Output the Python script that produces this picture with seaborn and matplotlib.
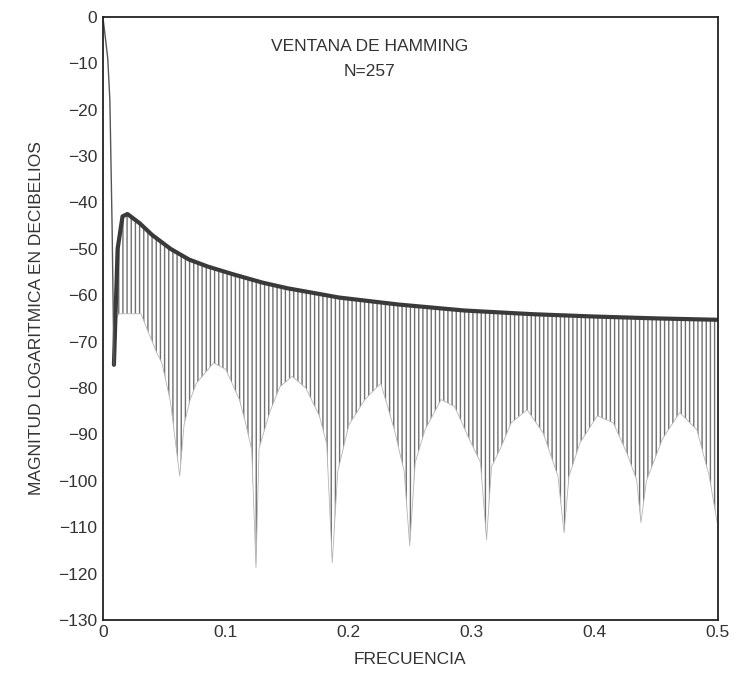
import numpy as np
import pandas as pd
import matplotlib
matplotlib.use("Agg")
import matplotlib.pyplot as plt
import seaborn as sns

# ---- data ----
mainlobe_f = [0.0, 0.0016, 0.004, 0.0057, 0.0065, 0.0075, 0.009]
mainlobe_db = [0.0, -3.5, -9.0, -18.0, -30.0, -45.0, -75.0]

upper_f = [0.009, 0.012, 0.016, 0.020, 0.025, 0.030, 0.040, 0.055, 0.070, 0.085,
           0.106, 0.130, 0.150, 0.192, 0.240, 0.294, 0.350, 0.400, 0.450, 0.500]
upper_db = [-75.0, -50.0, -43.0, -42.5, -43.5, -44.5, -47.0, -50.0, -52.3, -53.8,
            -55.5, -57.3, -58.5, -60.5, -62.0, -63.3, -64.1, -64.6, -65.0, -65.3]

lower_f = [0.009, 0.011, 0.013, 0.017, 0.031, 0.037, 0.044, 0.048, 0.055, 0.059,
           0.0625, 0.066, 0.071, 0.076, 0.090, 0.100, 0.111, 0.116, 0.121, 0.1245,
           0.127, 0.136, 0.144, 0.154, 0.165, 0.176, 0.182, 0.1865, 0.191, 0.200,
           0.213, 0.226, 0.237, 0.245, 0.2495, 0.254, 0.262, 0.275, 0.286, 0.297,
           0.307, 0.312, 0.316, 0.324, 0.332, 0.345, 0.358, 0.370, 0.375, 0.379,
           0.388, 0.402, 0.415, 0.426, 0.434, 0.4375, 0.442, 0.455, 0.469, 0.483,
           0.493, 0.4995]
lower_db = [-75.0, -65.0, -64.0, -64.0, -64.0, -68.0, -72.5, -74.6, -83.0, -91.6,
            -99.0, -88.0, -82.5, -79.0, -74.6, -76.0, -82.5, -87.5, -93.3, -118.7,
            -93.0, -85.0, -79.7, -77.5, -80.0, -86.0, -92.0, -117.7, -98.0, -88.0,
            -82.5, -79.0, -89.0, -98.0, -114.0, -96.0, -89.0, -82.5, -84.0, -90.5,
            -96.0, -112.7, -97.0, -92.6, -87.5, -84.7, -89.7, -99.0, -111.2, -99.0,
            -91.8, -86.0, -87.5, -94.0, -99.8, -109.0, -100.0, -91.0, -85.3, -89.0,
            -99.0, -109.0]

x_ticks = [0, 0.1, 0.2, 0.3, 0.4, 0.5]
x_ticklabels = ["0", "0.1", "0.2", "0.3", "0.4", "0.5"]
y_ticks = list(range(0, -140, -10))
y_ticklabels = [str(v) if v == 0 else "\u2212" + str(-v) for v in y_ticks]

title1 = "VENTANA DE HAMMING"
title2 = "N=257"
xlabel = "FRECUENCIA"
ylabel = "MAGNITUD LOGARITMICA EN DECIBELIOS"

# ---- style ----
sns.set_style("white")
plt.rcParams["font.family"] = ["Liberation Sans", "DejaVu Sans"]
plt.rcParams["hatch.linewidth"] = 1.0

fig = plt.figure(figsize=(7.40, 6.76), dpi=100)
ax = fig.add_axes([0.139, 0.083, 0.831, 0.892])

ink = "#222222"

# dense spectral strokes: area between trough envelope and peak envelope
poly_f = list(upper_f) + list(lower_f[::-1])
poly_db = list(upper_db) + list(lower_db[::-1])
ax.fill(poly_f, poly_db, facecolor="none", edgecolor="#707070",
        hatch="||||", linewidth=0)

df_low = pd.DataFrame({"f": lower_f, "db": lower_db})
df_up = pd.DataFrame({"f": upper_f, "db": upper_db})
df_main = pd.DataFrame({"f": mainlobe_f, "db": mainlobe_db})

sns.lineplot(data=df_low, x="f", y="db", ax=ax, color="#b5b5b5", linewidth=0.6,
             sort=False, estimator=None)
sns.lineplot(data=df_up, x="f", y="db", ax=ax, color="#3a3a3a", linewidth=3.0,
             sort=False, estimator=None)
sns.lineplot(data=df_main, x="f", y="db", ax=ax, color="#555555", linewidth=1.0,
             sort=False, estimator=None)

ax.set_xlim(0, 0.5)
ax.set_ylim(-130, 0)
ax.set_xticks(x_ticks)
ax.set_xticklabels(x_ticklabels)
ax.set_yticks(y_ticks)
ax.set_yticklabels(y_ticklabels)
ax.tick_params(axis="both", direction="in", length=6, width=1.1, color=ink,
               labelsize=12.5, labelcolor="#333333", pad=4,
               top=False, right=False)
for s in ax.spines.values():
    s.set_visible(True)
    s.set_color(ink)
    s.set_linewidth(1.3)

ax.set_xlabel(xlabel, fontsize=12.5, color="#333333", labelpad=8)
ax.set_ylabel(ylabel, fontsize=12.5, color="#333333", labelpad=10)

ax.text(0.217, -6.3, title1, ha="center", va="center", fontsize=12.5, color="#333333")
ax.text(0.217, -11.8, title2, ha="center", va="center", fontsize=12.5, color="#333333")

fig.savefig("out.png", dpi=100)
